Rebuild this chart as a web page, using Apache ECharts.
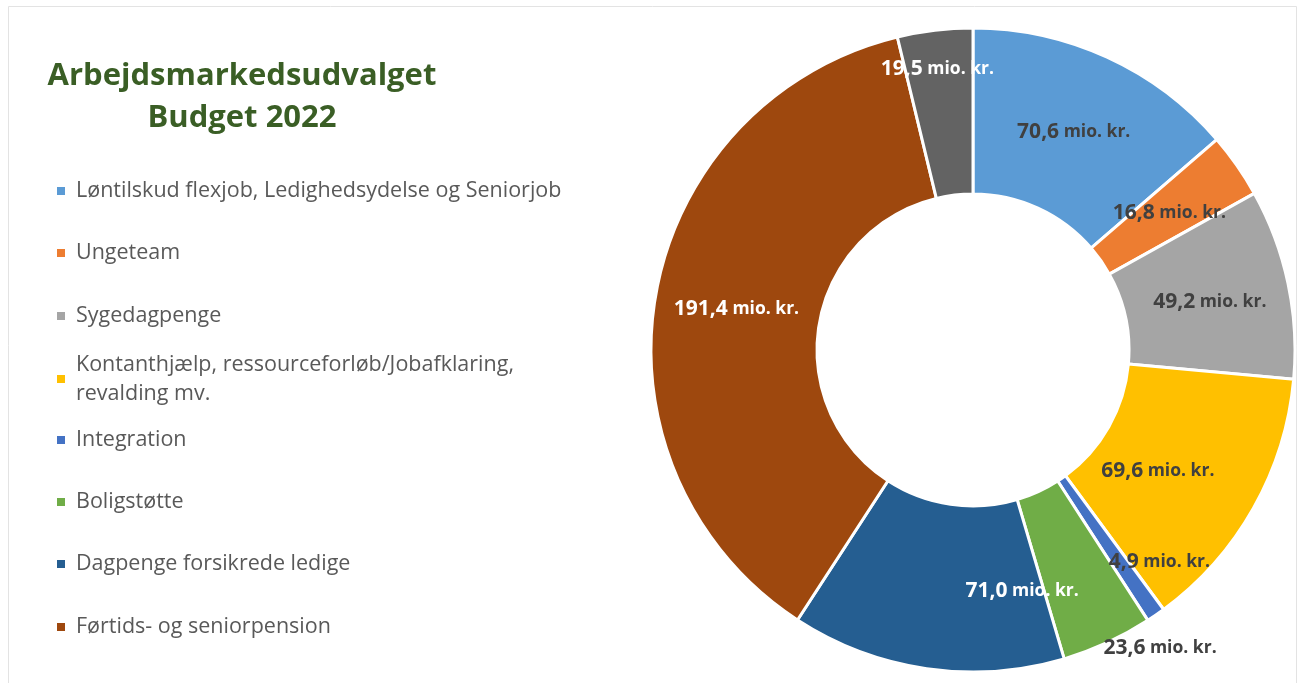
<!DOCTYPE html>
<html>
<head>
<meta charset="utf-8">
<script src="https://cdn.jsdelivr.net/npm/echarts@6/dist/echarts.min.js"></script>
<style>
html, body { margin: 0; padding: 0; background: #fff; }
#chart { width: 1298px; height: 683px; }
</style>
</head>
<body>
<div id="chart"></div>
<script>
// Budget 2022, mio. kr. - clockwise from 12 o'clock
var categories = [
	'Løntilskud flexjob, Ledighedsydelse og Seniorjob',
	'Ungeteam',
	'Sygedagpenge',
	'Kontanthjælp, ressourceforløb/Jobafklaring,\nrevalding mv.',
	'Integration',
	'Boligstøtte',
	'Dagpenge forsikrede ledige',
	'Førtids- og seniorpension',
	'Øvrige'
];
var values = [70.6, 16.8, 49.2, 69.6, 4.9, 23.6, 71.0, 191.4, 19.5];
var legendNames = categories.slice(0, 8);	//sidste post har ingen forklaring

var colors = ['#5B9BD5', '#ED7D31', '#A5A5A5', '#FFC000', '#4472C4', '#70AD47', '#255E91', '#9E480E', '#636363'];
var labelColors = ['#404040', '#404040', '#404040', '#404040', '#404040', '#404040', '#fff', '#fff', '#fff'];
//flyt etiketter som i Excel
var labelShift = [[0, 2], [-2, 2], [0, 2], [-26, 2], [49, 13], [86, 78], [84, 2], [2, 0], [-7, -41]];
var legendCenters = [191, 253, 316, 379, 440, 502, 564, 627];

var FONT = 'Open Sans';
var LINE_H = 29;

var chart = echarts.init(document.getElementById('chart'));

var fmt = function (v) {
	return v.toFixed(1).replace('.', ',');
};

var legends = legendNames.map(function (name, i) {
	var lines = name.split('\n').length;
	var padTop = (lines - 1) * LINE_H;
	var boxH = lines * LINE_H + padTop;
	return {
		data: [name],
		orient: 'vertical',
		left: 55,
		top: legendCenters[i] - boxH / 2,
		padding: 0,
		itemWidth: 10,
		itemHeight: 10,
		icon: 'rect',
		selectedMode: false,
		textStyle: {
			fontFamily: FONT,
			fontSize: 21.5,
			color: '#595959',
			lineHeight: LINE_H,
			padding: [padTop, 0, 0, 5]
		}
	};
});

chart.setOption({
	animation: false,
	title: {
		text: 'Arbejdsmarkedsudvalget\nBudget 2022',
		left: 242,
		top: 55,
		padding: 0,
		textAlign: 'center',
		textStyle: {
			fontFamily: FONT,
			fontSize: 31,
			fontWeight: 'bold',
			color: '#3A5E25',
			lineHeight: 42
		}
	},
	graphic: [{
		type: 'rect',
		shape: { x: 8.5, y: 6.5, width: 1288, height: 700 },
		style: { fill: null, stroke: '#e3e3e3', lineWidth: 1 },
		silent: true
	}],
	legend: legends,
	series: [{
		type: 'pie',
		center: [973, 350],
		radius: [156, 322],
		startAngle: 90,
		clockwise: true,
		avoidLabelOverlap: false,
		emphasis: { disabled: true },
		itemStyle: { borderColor: '#fff', borderWidth: 3 },
		label: {
			show: true,
			position: 'inside',
			formatter: function (p) {
				return '{n|' + fmt(p.value) + '}{u| mio. kr.}';
			},
			rich: {
				n: { fontFamily: FONT, fontSize: 21, fontWeight: 'bold' },
				u: { fontFamily: FONT, fontSize: 17.5, fontWeight: 'bold' }
			}
		},
		labelLine: { show: false },
		labelLayout: function (p) {
			var s = labelShift[p.dataIndex];
			return { dx: s[0], dy: s[1] };
		},
		data: values.map(function (v, i) {
			return {
				name: categories[i],
				value: v,
				itemStyle: { color: colors[i] },
				label: {
					color: labelColors[i],
					rich: {
						n: { color: labelColors[i] },
						u: { color: labelColors[i] }
					}
				}
			};
		})
	}]
});
</script>
</body>
</html>
